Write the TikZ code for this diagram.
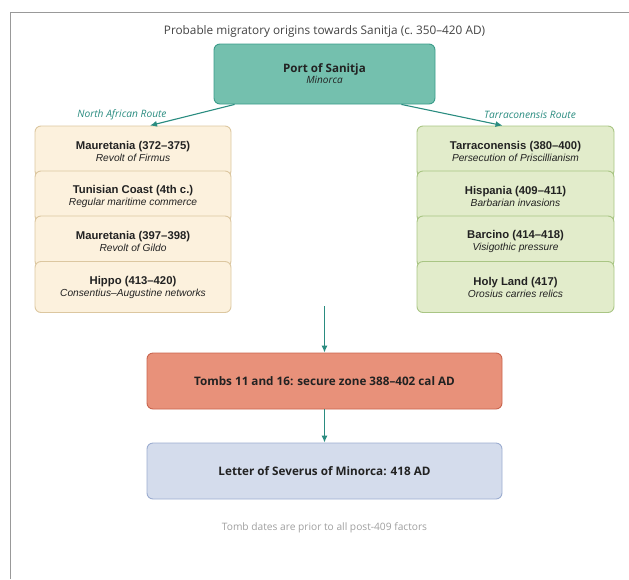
\documentclass[tikz,border=0pt]{standalone}
\usepackage{fontspec}
\setmainfont{Open Sans}
\newfontfamily\stackfont[Ligatures=TeX]{Liberation Sans}
\usetikzlibrary{arrows.meta,calc}
\definecolor{sanitjateal}{HTML}{2A8C80}
\definecolor{portfill}{HTML}{74C0AE}
\definecolor{portline}{HTML}{3B9C8A}
\definecolor{creamfill}{HTML}{FCF1DD}
\definecolor{creamline}{HTML}{DCC7A0}
\definecolor{sagefill}{HTML}{E2ECCB}
\definecolor{sageline}{HTML}{A9C584}
\definecolor{tombfill}{HTML}{E8917A}
\definecolor{tombline}{HTML}{C9654E}
\definecolor{letterfill}{HTML}{D4DCEC}
\definecolor{letterline}{HTML}{9CADD0}
\definecolor{inkgray}{HTML}{222222}
\newcommand\stackhead[1]{{\bfseries\fontsize{11.3}{14}\selectfont #1}}
\newcommand\stacksub[1]{{\itshape\fontsize{10.2}{13}\selectfont #1}}
\begin{document}
\begin{tikzpicture}[x=1pt,y=-1pt,
    box/.style={draw,rounded corners=6pt,line width=0.9pt,align=center,text=inkgray,inner sep=0pt},
    northbox/.style={box,fill=creamfill,draw=creamline,minimum width=196pt,minimum height=51pt,font=\stackfont},
    tarrbox/.style={box,fill=sagefill,draw=sageline,minimum width=197pt,minimum height=51pt,font=\stackfont},
    widebox/.style={box,minimum width=355pt,minimum height=56pt,font=\bfseries\fontsize{11.7}{14}\selectfont},
    route/.style={text=sanitjateal,font=\itshape\fontsize{10.2}{12}\selectfont},
    flow/.style={draw=sanitjateal,line width=1.1pt,-{Latex[length=7pt,width=6pt]}}]
  \useasboundingbox (0,0) rectangle (629,579);
  \draw[gray!80,line width=0.8pt] (10,579) -- (10,12) -- (629,12);
  \node[text=inkgray!85,font=\fontsize{11.8}{14}\selectfont] (title) at (324.5,31) {Probable migratory origins towards Sanitja (c.~350--420 AD)};
  \node[box,fill=portfill,draw=portline,minimum width=221pt,minimum height=60pt] (port) at (324.5,74)
    {{\bfseries\fontsize{11.6}{14}\selectfont Port of Sanitja}\\[-1pt]{\itshape\fontsize{10}{12}\selectfont Minorca}};
  \node[northbox] (n1) at (133,151.5) {\stackhead{Mauretania (372--375)}\\\stacksub{Revolt of Firmus}};
  \node[northbox] (n2) at (133,196.5) {\stackhead{Tunisian Coast (4th c.)}\\\stacksub{Regular maritime commerce}};
  \node[northbox] (n3) at (133,241.5) {\stackhead{Mauretania (397--398)}\\\stacksub{Revolt of Gildo}};
  \node[northbox] (n4) at (133,287) {\stackhead{Hippo (413--420)}\\\stacksub{Consentius--Augustine networks}};
  \node[tarrbox] (t1) at (515.5,151.5) {\stackhead{Tarraconensis (380--400)}\\\stacksub{Persecution of Priscillianism}};
  \node[tarrbox] (t2) at (515.5,196.5) {\stackhead{Hispania (409--411)}\\\stacksub{Barbarian invasions}};
  \node[tarrbox] (t3) at (515.5,241.5) {\stackhead{Barcino (414--418)}\\\stacksub{Visigothic pressure}};
  \node[tarrbox] (t4) at (515.5,287) {\stackhead{Holy Land (417)}\\\stacksub{Orosius carries relics}};
  \node[route] (northlabel) at (122,115) {North African Route};
  \node[route] (tarrlabel) at (530,115) {Tarraconensis Route};
  \node[widebox,fill=tombfill,draw=tombline] (tombs) at (324.5,381) {Tombs 11 and 16: secure zone 388--402 cal AD};
  \node[widebox,fill=letterfill,draw=letterline] (letter) at (324.5,471) {Letter of Severus of Minorca: 418 AD};
  \node[text=gray!75,font=\fontsize{10.2}{12}\selectfont] (note) at (324.5,528) {Tomb dates are prior to all post-409 factors};
  \coordinate (merge) at (324.5,306);
  \draw[flow] ([xshift=21pt]port.south west) -- ([xshift=17pt]n1.north);
  \draw[flow] ([xshift=-34pt]port.south east) -- ([xshift=-13pt]t1.north);
  \draw[flow] (merge) -- (tombs.north);
  \draw[flow] (tombs.south) -- (letter.north);
\end{tikzpicture}
\end{document}
